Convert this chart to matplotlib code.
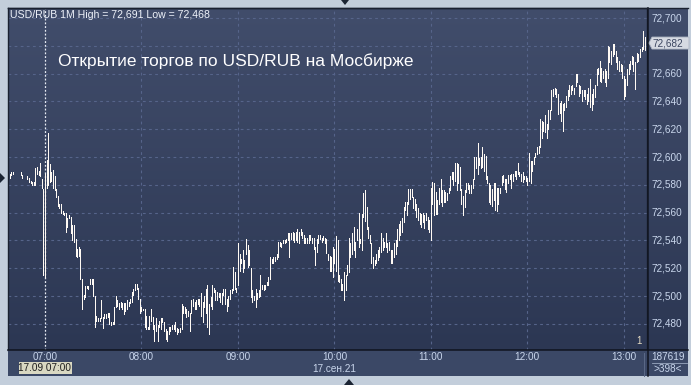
import numpy as np
import matplotlib
matplotlib.use("Agg")
import matplotlib.pyplot as plt
from matplotlib.colors import LinearSegmentedColormap
from matplotlib.patches import Polygon, Rectangle
from matplotlib.lines import Line2D
import matplotlib.transforms as mtransforms

plt.rcParams['font.family'] = ['Liberation Sans', 'DejaVu Sans']

# ---------------------------------------------------------------------------
# Data: 1-minute bars USD/RUB, 17.09.21, first bar at 06:38 (minute -22 from 07:00)
# None = no trade in that minute
# ---------------------------------------------------------------------------
first_minute = -22
bar_high = [
    72.588, 72.589, 72.589, None, None, None, None, 72.589, 72.587, None,
    None, 72.586, 72.585, 72.583, 72.582, 72.582, 72.592, 72.593, 72.590, 72.596,
    72.584, 72.577, 72.588, 72.598, 72.617, 72.595, 72.589, 72.591, 72.586, 72.577,
    72.572, 72.566, 72.566, 72.561, 72.560, 72.560, 72.556, 72.558, 72.557, 72.551,
    72.551, 72.541, 72.534, 72.535, 72.534, 72.512, 72.501, 72.507, 72.507, 72.507,
    72.512, 72.512, 72.512, 72.500, 72.486, 72.484, 72.484, 72.497, 72.485, 72.487,
    72.487, 72.488, 72.488, 72.481, 72.481, 72.492, 72.500, 72.497, 72.495, 72.496,
    72.495, 72.495, 72.495, 72.497, 72.496, 72.498, 72.503, 72.505, 72.509, 72.509,
    72.506, 72.498, 72.492, 72.491, 72.491, 72.486, 72.478, 72.486, 72.491, 72.485,
    72.479, 72.484, 72.479, 72.482, 72.484, 72.484, 72.481, 72.476, 72.475, 72.478,
    72.478, 72.479, 72.479, 72.481, 72.477, 72.476, 72.477, 72.494, 72.493, 72.492,
    72.491, 72.489, 72.488, 72.497, 72.498, 72.496, 72.497, 72.498, 72.498, 72.502,
    72.496, 72.500, 72.505, 72.508, 72.494, 72.499, 72.508, 72.506, 72.504, 72.503,
    72.502, 72.502, 72.502, 72.505, 72.505, 72.498, 72.500, 72.504, 72.505, 72.521,
    72.517, 72.506, 72.538, 72.530, 72.527, 72.533, 72.526, 72.541, 72.537, 72.533,
    72.520, 72.504, 72.500, 72.505, 72.502, 72.504, 72.515, 72.508, 72.508, 72.508,
    72.510, 72.514, 72.528, 72.527, 72.528, 72.528, 72.530, 72.539, 72.539, 72.538,
    72.540, 72.540, 72.541, 72.545, 72.545, 72.545, 72.546, 72.545, 72.546, 72.548,
    72.546, 72.548, 72.546, 72.544, 72.542, 72.542, 72.544, 72.544, 72.542, 72.542,
    72.535, 72.541, 72.544, 72.544, 72.542, 72.543, 72.542, 72.541, 72.530, 72.529,
    72.528, 72.535, 72.534, 72.543, 72.540, 72.515, 72.512, 72.509, 72.517, 72.515,
    72.522, 72.542, 72.538, 72.545, 72.550, 72.539, 72.548, 72.560, 72.541, 72.559,
    72.574, 72.576, 72.564, 72.550, 72.544, 72.538, 72.528, 72.526, 72.530, 72.533,
    72.535, 72.545, 72.542, 72.539, 72.545, 72.538, 72.539, 72.533, 72.533, 72.538,
    72.540, 72.548, 72.552, 72.554, 72.556, 72.564, 72.568, 72.568, 72.577, 72.577,
    72.577, 72.571, 72.570, 72.566, 72.563, 72.560, 72.559, 72.560, 72.558, 72.560,
    72.557, 72.555, 72.578, 72.582, 72.581, 72.575, 72.569, 72.578, 72.584, 72.576,
    72.576, 72.575, 72.574, 72.578, 72.586, 72.589, 72.589, 72.596, 72.596, 72.595,
    72.593, 72.577, 72.572, 72.576, 72.581, 72.581, 72.580, 72.580, 72.584, 72.600,
    72.600, 72.610, 72.599, 72.600, 72.607, 72.602, 72.601, 72.586, 72.581, 72.580,
    72.577, 72.581, 72.581, 72.578, 72.578, 72.578, 72.586, 72.587, 72.584, 72.584,
    72.587, 72.587, 72.588, 72.588, 72.590, 72.590, 72.596, 72.589, 72.588, 72.589,
    72.586, 72.586, 72.585, 72.603, 72.597, 72.597, 72.600, 72.603, 72.607, 72.608,
    72.627, 72.626, 72.625, 72.630, 72.624, 72.634, 72.634, 72.648, 72.649, 72.650,
    72.649, 72.645, 72.639, 72.640, 72.638, 72.639, 72.644, 72.648, 72.652, 72.651,
    72.652, 72.650, 72.660, 72.660, 72.652, 72.651, 72.648, 72.648, 72.648, 72.645,
    72.650, 72.656, 72.645, 72.649, 72.652, 72.663, 72.664, 72.669, 72.664, 72.662,
    72.663, 72.662, 72.680, 72.679, 72.676, 72.681, 72.681, 72.676, 72.672, 72.669,
    72.667, 72.666, 72.658, 72.656, 72.663, 72.667, 72.669, 72.673, 72.672, 72.668,
    72.675, 72.674, 72.678, 72.679, 72.691, 72.686,
]
bar_low = [
    72.585, 72.587, 72.588, None, None, None, None, 72.587, 72.585, None,
    None, 72.584, 72.582, 72.581, 72.580, 72.580, 72.580, 72.588, 72.587, 72.586,
    72.578, 72.515, 72.514, 72.578, 72.580, 72.582, 72.583, 72.578, 72.576, 72.571,
    72.565, 72.563, 72.560, 72.559, 72.558, 72.546, 72.550, 72.556, 72.545, 72.540,
    72.539, 72.529, 72.528, 72.529, 72.512, 72.491, 72.498, 72.499, 72.506, 72.505,
    72.509, 72.509, 72.500, 72.478, 72.482, 72.482, 72.482, 72.484, 72.477, 72.484,
    72.484, 72.485, 72.480, 72.479, 72.480, 72.480, 72.492, 72.493, 72.491, 72.492,
    72.491, 72.487, 72.489, 72.491, 72.493, 72.495, 72.496, 72.501, 72.504, 72.505,
    72.498, 72.488, 72.489, 72.490, 72.478, 72.476, 72.476, 72.476, 72.482, 72.476,
    72.468, 72.475, 72.468, 72.478, 72.476, 72.481, 72.475, 72.469, 72.468, 72.473,
    72.475, 72.476, 72.476, 72.475, 72.473, 72.474, 72.474, 72.476, 72.488, 72.488,
    72.485, 72.486, 72.475, 72.488, 72.493, 72.491, 72.491, 72.494, 72.493, 72.486,
    72.481, 72.492, 72.488, 72.478, 72.473, 72.493, 72.491, 72.503, 72.497, 72.497,
    72.499, 72.496, 72.494, 72.501, 72.494, 72.489, 72.493, 72.498, 72.502, 72.504,
    72.505, 72.503, 72.508, 72.518, 72.524, 72.517, 72.520, 72.530, 72.521, 72.522,
    72.499, 72.496, 72.497, 72.492, 72.498, 72.499, 72.500, 72.505, 72.504, 72.505,
    72.508, 72.508, 72.512, 72.524, 72.524, 72.525, 72.527, 72.528, 72.536, 72.535,
    72.538, 72.538, 72.539, 72.540, 72.528, 72.541, 72.540, 72.539, 72.540, 72.539,
    72.538, 72.544, 72.542, 72.538, 72.538, 72.538, 72.538, 72.540, 72.538, 72.534,
    72.522, 72.532, 72.538, 72.541, 72.539, 72.540, 72.538, 72.531, 72.526, 72.518,
    72.518, 72.514, 72.524, 72.518, 72.511, 72.510, 72.504, 72.504, 72.497, 72.504,
    72.515, 72.517, 72.528, 72.530, 72.533, 72.528, 72.540, 72.535, 72.538, 72.533,
    72.557, 72.554, 72.548, 72.542, 72.538, 72.524, 72.520, 72.522, 72.524, 72.526,
    72.528, 72.532, 72.533, 72.535, 72.535, 72.532, 72.533, 72.524, 72.524, 72.528,
    72.530, 72.536, 72.540, 72.544, 72.546, 72.553, 72.562, 72.558, 72.566, 72.570,
    72.571, 72.563, 72.562, 72.557, 72.555, 72.552, 72.550, 72.553, 72.549, 72.555,
    72.548, 72.546, 72.540, 72.566, 72.558, 72.559, 72.559, 72.566, 72.568, 72.565,
    72.568, 72.568, 72.569, 72.574, 72.576, 72.584, 72.580, 72.583, 72.576, 72.581,
    72.576, 72.566, 72.558, 72.564, 72.575, 72.577, 72.574, 72.574, 72.578, 72.584,
    72.592, 72.588, 72.594, 72.592, 72.593, 72.590, 72.584, 72.581, 72.568, 72.566,
    72.565, 72.569, 72.562, 72.561, 72.566, 72.574, 72.580, 72.582, 72.577, 72.575,
    72.581, 72.584, 72.578, 72.583, 72.586, 72.584, 72.588, 72.586, 72.583, 72.582,
    72.584, 72.583, 72.580, 72.583, 72.581, 72.590, 72.595, 72.600, 72.602, 72.603,
    72.607, 72.614, 72.619, 72.618, 72.614, 72.620, 72.627, 72.634, 72.644, 72.645,
    72.643, 72.631, 72.632, 72.626, 72.619, 72.634, 72.636, 72.641, 72.644, 72.645,
    72.648, 72.645, 72.651, 72.654, 72.644, 72.646, 72.640, 72.644, 72.642, 72.638,
    72.640, 72.636, 72.634, 72.638, 72.643, 72.652, 72.660, 72.655, 72.654, 72.657,
    72.654, 72.651, 72.657, 72.668, 72.667, 72.673, 72.674, 72.668, 72.663, 72.662,
    72.662, 72.657, 72.642, 72.644, 72.652, 72.660, 72.663, 72.667, 72.662, 72.649,
    72.668, 72.669, 72.672, 72.676, 72.678, 72.677,
]

last_price = 72.682
price_ticks = [72.480, 72.500, 72.520, 72.540, 72.560, 72.580, 72.600,
               72.620, 72.640, 72.660, 72.680, 72.700]
hour_labels = ['07:00', '08:00', '09:00', '10:00', '11:00', '12:00', '13:00']
hour_minutes = [0, 60, 120, 180, 240, 300, 360]
title_line = 'USD/RUB 1M High = 72,691 Low = 72,468'
caption = 'Открытие торгов по USD/RUB на Мосбирже'
date_label = '17.сен.21'
cursor_label = '17.09 07:00'
volume_label = '187619'
count_label = '>398<'

# ---------------------------------------------------------------------------
W, H = 691, 385
fig = plt.figure(figsize=(W / 100, H / 100), dpi=100)
fig.patch.set_facecolor('#c3cedb')


def rect(x0, y0, x1, y1):
    return [x0 / W, 1 - y1 / H, (x1 - x0) / W, (y1 - y0) / H]


XLIM = (-23.0, 374.4)
YLIM = (72.4612, 72.7072)

bg_cmap = LinearSegmentedColormap.from_list('bg', ['#2c3753', '#414d6b'])
grad = np.linspace(0, 1, 256).reshape(-1, 1)

# main price panel
ax = fig.add_axes(rect(8, 8, 647, 350))
ax.imshow(grad, cmap=bg_cmap, origin='lower', aspect='auto',
          extent=[0, 1, 0, 1], transform=ax.transAxes, zorder=0)
ax.set_xlim(*XLIM)
ax.set_ylim(*YLIM)
ax.set_xticks([])
ax.set_yticks([])
for s in ax.spines.values():
    s.set_color('#1a2130')
    s.set_linewidth(1.0)

grid_kw = dict(color='#56648a', linewidth=0.8, linestyle=(0, (2.5, 3)), zorder=1)
for p in price_ticks:
    ax.axhline(p, **grid_kw)
for m in hour_minutes[1:]:
    ax.axvline(m, **grid_kw)

# crosshair at 07:00
ax.axvline(0, color='#e8ecf4', linewidth=0.9, linestyle=(0, (1.5, 1.5)), zorder=2)

minutes = np.arange(first_minute, first_minute + len(bar_high))
hi = np.array([np.nan if v is None else v for v in bar_high])
lo = np.array([np.nan if v is None else v for v in bar_low])
ok = ~np.isnan(hi)
ax.vlines(minutes[ok], lo[ok], hi[ok], colors='#fffaf4', linewidth=0.72,
          antialiased=False, zorder=3)

ax.text(2 / 639, 1 - 7 / 342, title_line, transform=ax.transAxes,
        fontsize=7.6, color='#eef2fa', ha='left', va='center')
ax.text(50 / 639, 1 - 53 / 342, caption, transform=ax.transAxes,
        fontsize=12.5, color='#ffffff', ha='left', va='center')
ax.text(628 / 639, 4 / 342, '1', transform=ax.transAxes,
        fontsize=7, color='#e6dcc4', ha='left', va='bottom')

# price axis panel
axp = fig.add_axes(rect(648, 8, 688, 350))
axp.imshow(grad, cmap=bg_cmap, origin='lower', aspect='auto',
           extent=[0, 1, 0, 1], transform=axp.transAxes, zorder=0)
axp.set_ylim(*YLIM)
axp.set_xlim(0, 1)
axp.set_xticks([])
axp.set_yticks([])
for s in axp.spines.values():
    s.set_visible(False)
for p in price_ticks:
    if abs(p - last_price) < 0.006:
        continue  # hidden behind the last-price tag
    axp.text(0.08, p, f'{p:.3f}'.replace('.', ','), fontsize=7.2,
             color='#c9d6ec', ha='left', va='center', zorder=2)

# last price tag
tag_y = 1 - axp.transLimits.transform((0, last_price))[1]
py = 8 + tag_y * 342
tag = Polygon([(649 / W, 1 - py / H), (652 / W, 1 - (py - 6) / H),
               (689 / W, 1 - (py - 6) / H), (689 / W, 1 - (py + 6) / H),
               (652 / W, 1 - (py + 6) / H)], closed=True,
              transform=fig.transFigure, facecolor='#d6dae2',
              edgecolor='#aeb6c4', linewidth=0.6, zorder=5)
fig.patches.append(tag)
fig.text(653 / W, 1 - py / H, f'{last_price:.3f}'.replace('.', ','),
         fontsize=7.2, color='#3c4660', ha='left', va='center', zorder=6)

# time axis panel
axt = fig.add_axes(rect(8, 350, 688, 376))
axt.set_facecolor('#3b4866')
axt.set_xticks([])
axt.set_yticks([])
for s in axt.spines.values():
    s.set_visible(False)

tr = mtransforms.blended_transform_factory(ax.transData, fig.transFigure)
for lab, m in zip(hour_labels, hour_minutes):
    fig.text(m, 1 - 357.5 / H, lab, transform=tr, fontsize=7.2,
             color='#c9d6ec', ha='center', va='center')
fig.text(180, 1 - 369.5 / H, date_label, transform=tr, fontsize=7.2,
         color='#c9d6ec', ha='center', va='center')
fig.patches.append(Rectangle((19 / W, 1 - 374 / H), 53 / W, 12 / H,
                             transform=fig.transFigure, facecolor='#d9d8c2',
                             edgecolor='none', zorder=5))
fig.text(0, 1 - 368 / H, cursor_label, transform=tr, fontsize=7.2,
         color='#1c1c1c', ha='center', va='center', zorder=6)

# volume / bar count box
fig.text(668 / W, 1 - 356.5 / H, volume_label, fontsize=7.2, color='#c9d6ec',
         ha='center', va='center')
fig.text(668 / W, 1 - 369.5 / H, count_label, fontsize=7.2, color='#c9d6ec',
         ha='center', va='center')
fig.lines.append(Line2D([652 / W, 687 / W], [1 - 363 / H, 1 - 363 / H],
                        transform=fig.transFigure, color='#9aa8c0', linewidth=0.6))
fig.lines.append(Line2D([644 / W, 644 / W], [1 - 353 / H, 1 - 376 / H],
                        transform=fig.transFigure, color='#5c6a88', linewidth=0.7))

# separators
fig.lines.append(Line2D([647.5 / W, 647.5 / W], [1 - 8 / H, 1 - 376 / H],
                        transform=fig.transFigure, color='#101520', linewidth=1.1))
fig.lines.append(Line2D([8 / W, 688 / W], [1 - 350 / H, 1 - 350 / H],
                        transform=fig.transFigure, color='#101520', linewidth=1.1))
fig.lines.append(Line2D([7.5 / W, 688 / W], [1 - 7.5 / H, 1 - 7.5 / H],
                        transform=fig.transFigure, color='#1a2130', linewidth=1.0))

# small navigator triangles around the frame
for pts in ([(341, 0), (349, 0), (345, 5)],
            [(0, 173), (0, 183), (5, 178)],
            [(344, 385), (354, 385), (349, 379)]):
    fig.patches.append(Polygon([(x / W, 1 - y / H) for x, y in pts], closed=True,
                               transform=fig.transFigure, facecolor='#1b2433',
                               edgecolor='none'))

fig.savefig('out.png', dpi=100, facecolor=fig.get_facecolor())
